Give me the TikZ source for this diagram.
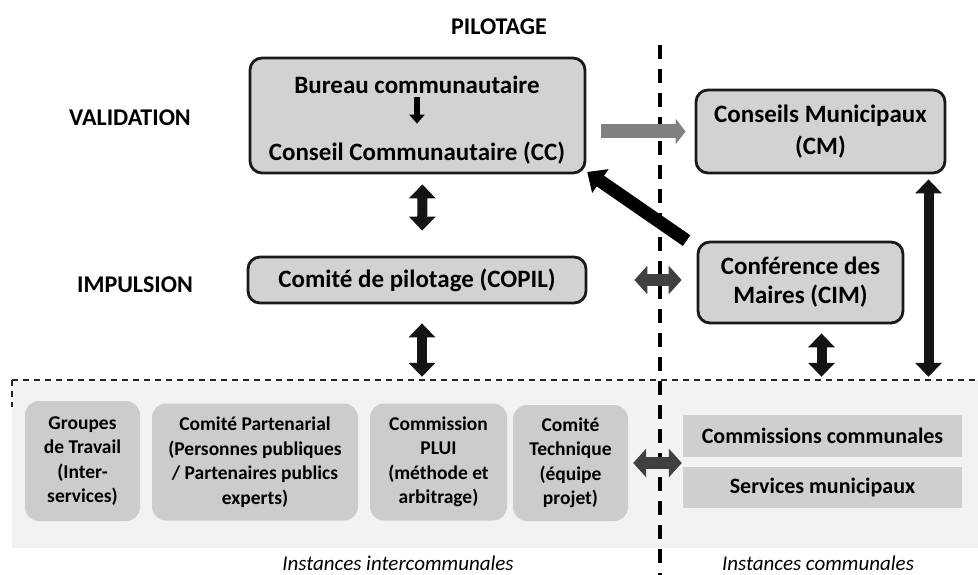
\documentclass[tikz,border=0pt]{standalone}
\usepackage{fontspec}
\setmainfont{Carlito}
\usetikzlibrary{arrows.meta}

\begin{document}
\begin{tikzpicture}[x=1pt,y=-1pt]
\tikzstyle{box} = [rectangle, draw=black!90, line width=2.8pt, fill=gray!35,
rounded corners=12pt, align=center, inner sep=0pt,
font=\bfseries\fontsize{25}{29}\selectfont]
\tikzstyle{txt} = [inner sep=0pt, font=\bfseries\fontsize{25}{29}\selectfont]
\tikzstyle{level} = [font=\bfseries\fontsize{24}{29}\selectfont]
\tikzstyle{sub} = [rectangle, fill=gray!40, rounded corners=14pt, align=center,
inner sep=0pt, font=\bfseries\fontsize{19.5}{24.5}\selectfont]
\tikzstyle{com} = [rectangle, fill=gray!38, inner sep=0pt,
font=\bfseries\fontsize{22}{26}\selectfont]
\tikzstyle{inst} = [font=\itshape\fontsize{21}{25}\selectfont]
\tikzstyle{fat} = [line width=10pt, black!92,
{Triangle[width=26pt,length=14pt]}-{Triangle[width=26pt,length=14pt]}]
\tikzstyle{diag} = [line width=13pt, black,
-{Triangle[width=28pt,length=16pt]}]
\tikzstyle{grayfat} = [line width=12pt, black!75,
{Triangle[width=28pt,length=13pt]}-{Triangle[width=28pt,length=13pt]}]
\tikzstyle{grayone} = [line width=14pt, black!50,
-{Triangle[width=25pt,length=10pt]}]
\tikzstyle{sep} = [line width=3.5pt, black, dash pattern=on 14pt off 10pt]
\tikzstyle{zoneline} = [line width=2.2pt, black!85, dash pattern=on 6pt off 5pt]

\useasboundingbox (0,0) rectangle (978,575);

% bottom zone
\node [rectangle, fill=gray!10, minimum width=966pt, minimum height=168pt,
inner sep=0pt] (zone) at (495,464) {};
\draw [zoneline] (zone.north west) -- (zone.north east);
\draw [zoneline] (zone.north west) -- ++(0,27);

% level labels
\node [level] (pilotage) at (499,27) {PILOTAGE};
\node [level] (validation) at (130,118) {VALIDATION};
\node [level] (impulsion) at (135,285) {IMPULSION};

% divider
\draw [sep] (660,45) -- (660,575);

% top boxes
\node [box, minimum width=335pt, minimum height=115pt] (cc) at (417.5,115.5) {};
\node [txt] (bureau) at (417,85) {Bureau communautaire};
\node [txt] (conseil) at (417,153) {Conseil Communautaire (CC)};
\node [box, minimum width=249pt, minimum height=83pt] (cm) at (820.5,131.5)
{Conseils Municipaux\\[3pt](CM)};
\node [box, minimum width=338pt, minimum height=46pt] (copil) at (417,280)
{Comité de pilotage (COPIL)};
\node [box, minimum width=205pt, minimum height=81pt] (cim) at (800.5,282.5)
{Conférence des\\Maires (CIM)};

% bottom boxes
\node [sub, minimum width=115pt, minimum height=120pt] (groupes) at (82.5,461)
{Groupes\\de Travail\\(Inter-\\services)};
\node [sub, minimum width=206pt, minimum height=117pt] (partenarial) at (255,462)
{Comité Partenarial\\(Personnes publiques\\/ Partenaires publics\\experts)};
\node [sub, minimum width=137pt, minimum height=117pt] (plui) at (438.5,462)
{Commission\\PLUI\\(méthode et\\arbitrage)};
\node [sub, minimum width=115pt, minimum height=116pt] (tech) at (570.5,463)
{Comité\\Technique\\(équipe\\projet)};
\node [com, minimum width=279pt, minimum height=42pt] (commc) at (822.5,436)
{Commissions communales};
\node [com, minimum width=279pt, minimum height=41pt] (servm) at (822.5,487.5)
{Services municipaux};

\node [inst] (interco) at (398,563) {Instances intercommunales};
\node [inst] (communes) at (818,563) {Instances communales};

% arrows
\draw [line width=6pt, black, -{Triangle[width=15pt,length=9pt]},
shorten <=3pt, shorten >=18pt] (bureau) -- (conseil);
\draw [grayone, shorten <=15pt, shorten >=9pt] (cc.east |- cm.center) -- (cm.west);
\draw [diag, shorten >=1pt] ([xshift=-10pt]cim.north west) -- ([yshift=3pt]cc.south east);
\draw [fat, shorten <=10pt, shorten >=25pt] ([xshift=5pt]cc.south) -- ([xshift=5pt]copil.north);
\draw [fat, shorten <=19pt, shorten >=3pt] ([xshift=5pt]copil.south) -- ([xshift=5pt]copil.south |- zone.north);
\draw [grayfat, shorten <=47pt, shorten >=15pt] (copil.east) -- (copil.east -| cim.west);
\draw [fat, shorten <=9pt, shorten >=3pt] ([xshift=21pt]cim.south) -- ([xshift=21pt]cim.south |- zone.north);
\draw [fat, shorten <=5pt, shorten >=3pt] ([xshift=108pt]cm.south) -- ([xshift=108pt]cm.south |- zone.north);
\draw [grayfat, shorten <=5pt, shorten >=1pt] (tech.east) -- (tech.east -| commc.west);
\end{tikzpicture}
\end{document}
